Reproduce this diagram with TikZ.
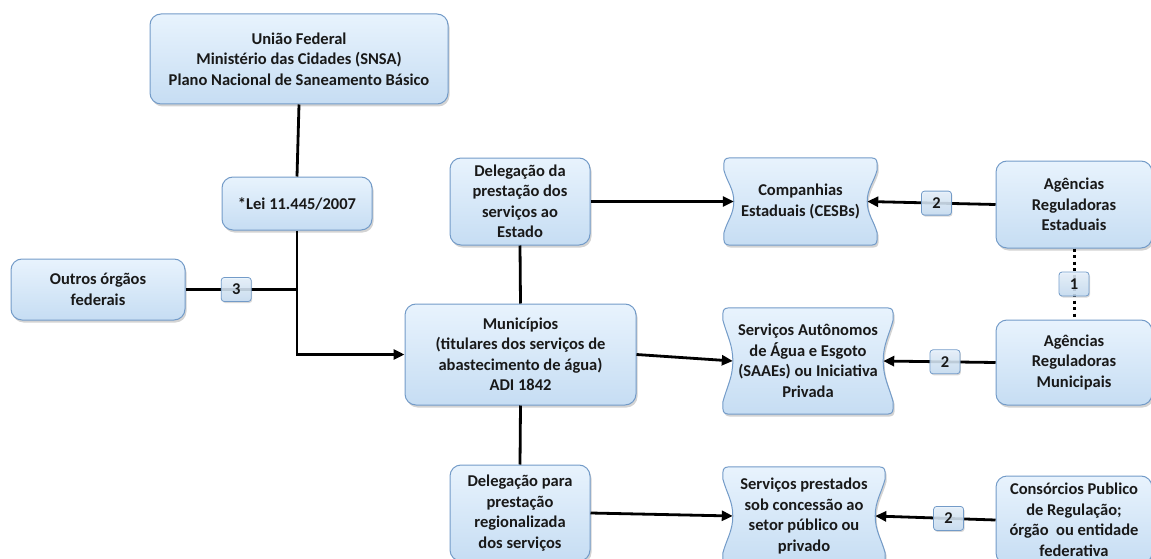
\documentclass[tikz,border=0pt]{standalone}
\usepackage{fontspec}
\setmainfont{Carlito}
\usetikzlibrary{shadows,arrows.meta,calc,backgrounds}
\definecolor{boxline}{RGB}{115,155,200}
\definecolor{boxtop}{RGB}{232,243,253}
\definecolor{boxbot}{RGB}{198,221,243}
\tikzset{
  x=1pt,y=1pt,
  txt/.style={align=center,font=\fontsize{16.5}{20.5}\selectfont\bfseries,inner sep=0pt,text=black!90},
  boxfill/.style={draw=boxline,line width=1pt,top color=boxtop,bottom color=boxbot,
    drop shadow={opacity=0.35,shadow xshift=1.5pt,shadow yshift=-2.5pt}},
  box/.style={txt,boxfill,rounded corners=11pt},
  wtext/.style={txt},
  badge/.style={txt,solid,draw=boxline,line width=0.8pt,rounded corners=3pt,top color=boxtop,bottom color=boxbot,
    fill opacity=0.85,text opacity=1,minimum width=30pt,minimum height=24pt,
    drop shadow={opacity=0.3,shadow xshift=1pt,shadow yshift=-1.5pt}},
  conn/.style={line width=2.8pt,black},
  arr/.style={conn,-{Triangle[length=11pt,width=10pt]}},
  dots/.style={line width=3pt,dash pattern=on 3pt off 3.5pt},
}
\newcommand{\waveshape}[1]{%
  \begin{scope}[on background layer]
  \path[boxfill] let \p1=(#1.north west), \p2=(#1.south east), \p3=(#1.west), \p4=(#1.east) in
    (\x1+2pt,\y1) -- (\x2-2pt,\y1)
    .. controls (\x2+10pt,\y1) .. (\x2+10pt,\y1-12pt)
    to[out=-105,in=90] (\x4,\y4)
    to[out=-90,in=105] (\x2+10pt,\y2+12pt)
    .. controls (\x2+10pt,\y2) .. (\x2-2pt,\y2)
    -- (\x1+2pt,\y2)
    .. controls (\x1-10pt,\y2) .. (\x1-10pt,\y2+12pt)
    to[out=75,in=-90] (\x3,\y3)
    to[out=90,in=-75] (\x1-10pt,\y1-12pt)
    .. controls (\x1-10pt,\y1) .. (\x1+2pt,\y1) -- cycle;
  \end{scope}}
\begin{document}
\begin{tikzpicture}
\useasboundingbox (0,0) rectangle (1151,-559);
% rounded boxes
\node[box,minimum width=298pt,minimum height=90pt] (uniao) at (299,-59)
  {União Federal\\Ministério das Cidades (SNSA)\\Plano Nacional de Saneamento Básico};
\node[box,minimum width=150pt,minimum height=53pt] (lei) at (297,-203.5) {*Lei 11.445/2007};
\node[box,minimum width=174pt,minimum height=61pt] (outros) at (98,-289.5) {Outros órgãos\\federais};
\node[box,minimum width=140pt,minimum height=87pt] (del1) at (520,-201.5)
  {Delegação da\\prestação dos\\serviços ao\\Estado};
\node[box,minimum width=231pt,minimum height=101pt] (mun) at (520.5,-354.5)
  {Municípios\\(titulares dos serviços de\\abastecimento de água)\\ADI 1842};
\node[box,minimum width=140pt,minimum height=96pt] (del2) at (520,-513)
  {Delegação para\\prestação\\regionalizada\\dos serviços};
\node[box,minimum width=156pt,minimum height=87pt] (agE) at (1074,-204.5)
  {Agências\\Reguladoras\\Estaduais};
\node[box,minimum width=156pt,minimum height=85pt] (agM) at (1074,-362.5)
  {Agências\\Reguladoras\\Municipais};
\node[box,minimum width=156pt,minimum height=88pt] (cons) at (1074,-520)
  {Consórcios Publico\\de Regulação;\\órgão\ \ ou entidade\\federativa};
% wave boxes
\node[wtext,minimum width=133pt,minimum height=87pt] (comp) at (800.5,-201.5)
  {Companhias\\Estaduais (CESBs)};
\waveshape{comp}
\node[wtext,minimum width=150pt,minimum height=106pt] (saae) at (808,-361)
  {Serviços Autônomos\\de Água e Esgoto\\(SAAEs) ou Iniciativa\\Privada};
\waveshape{saae}
\node[wtext,minimum width=142pt,minimum height=98pt] (serv) at (804,-516)
  {Serviços prestados\\sob concessão ao\\setor público ou\\privado};
\waveshape{serv}
% connectors
\draw[conn] (uniao.south) -- (lei.north);
\draw[arr] (lei.south) |- (mun.west);
\draw[conn] (outros.east) -- node[badge,pos=0.455]{3} (outros.east -| lei.south);
\draw[conn] (del1.south) -- (mun.north);
\draw[conn] (mun.south) -- (del2.north);
\draw[arr] (del1.east) -- (comp.west);
\draw[arr] (mun.east) -- (saae.west);
\draw[arr] (del2.east) -- (serv.west);
\draw[arr] (agE.west) -- node[badge,pos=0.46]{2} (comp.east);
\draw[arr] (agM.west) -- node[badge,pos=0.45]{2} (saae.east);
\draw[arr] (cons.west) -- node[badge,pos=0.39]{2} (serv.east);
\draw[dots] (agE.south) -- node[badge,pos=0.5]{1} (agM.north);
\end{tikzpicture}
\end{document}
